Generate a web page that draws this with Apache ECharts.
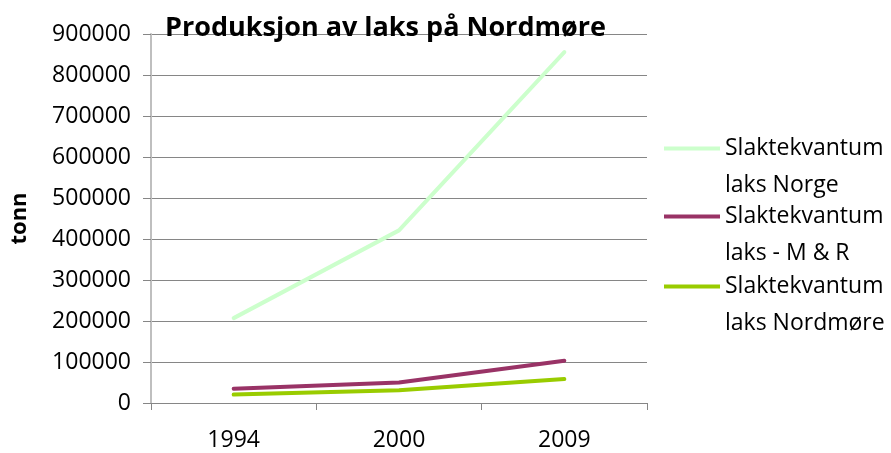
<!DOCTYPE html>
<html>
<head>
<meta charset="utf-8">
<script src="https://cdn.jsdelivr.net/npm/echarts@6/dist/echarts.min.js"></script>
<style>
  html, body { margin: 0; padding: 0; background: #fff; }
  #chart { width: 891px; height: 453px; }
</style>
</head>
<body>
<div id="chart"></div>
<script>
// data (tonn)
const years = ["1994", "2000", "2009"];
const laksNorge = [207000, 421000, 856000];
const laksMR = [35000, 50000, 103000];
const laksNordmore = [20500, 31000, 58500];

const seriesNames = ["Slaktekvantum laks Norge", "Slaktekvantum laks - M & R", "Slaktekvantum laks Nordmøre"];
const seriesColors = ["#ccffcc", "#993366", "#99cc00"];
const seriesData = [laksNorge, laksMR, laksNordmore];

const font = "'Open Sans', sans-serif";
const legendTops = [93, 161, 231];

let myChart = echarts.init(document.getElementById("chart"));

myChart.setOption({
  animation: false,
  title: {
    text: "Produksjon av laks på Nordmøre",
    left: 160,
    top: 10,
    textStyle: { fontFamily: font, fontSize: 27, fontWeight: "bold", color: "#000" }
  },
  // one legend per series; an empty first line keeps the line mark next to the first text line
  legend: seriesNames.map((name, i) => ({
    data: [name],
    left: 664,
    top: legendTops[i],
    padding: 0,
    icon: "rect",
    itemWidth: 56,
    itemHeight: 4,
    formatter: n => " \n" + n.replace(/^(\S+) /, "$1\n"),
    textStyle: {
      fontFamily: font,
      fontSize: 23,
      color: "#000",
      lineHeight: 37
    }
  })),
  grid: {
    left: 151,
    right: 244,
    top: 34,
    bottom: 50
  },
  xAxis: {
    type: "category",
    data: years,
    axisLine: { lineStyle: { color: "#868686", width: 1 } },
    axisTick: { show: true, length: 7, lineStyle: { color: "#868686" } },
    axisLabel: { fontFamily: font, fontSize: 23, color: "#000", margin: 26 }
  },
  yAxis: {
    type: "value",
    min: 0,
    max: 900000,
    interval: 100000,
    name: "tonn",
    nameLocation: "middle",
    nameGap: 120,
    nameTextStyle: { fontFamily: font, fontSize: 22, fontWeight: "bold", color: "#000" },
    axisLine: { show: true, lineStyle: { color: "#bfbfbf", width: 2 } },
    axisTick: { show: true, length: 8, lineStyle: { color: "#868686" } },
    axisLabel: { fontFamily: font, fontSize: 23, color: "#000", margin: 20, formatter: v => String(v) },
    splitLine: { lineStyle: { color: "#868686", width: 1 } }
  },
  series: seriesNames.map((name, i) => ({
    name: name,
    type: "line",
    data: seriesData[i],
    symbol: "none",
    color: seriesColors[i],
    lineStyle: { width: 4, color: seriesColors[i], cap: "round" }
  }))
});
</script>
</body>
</html>
